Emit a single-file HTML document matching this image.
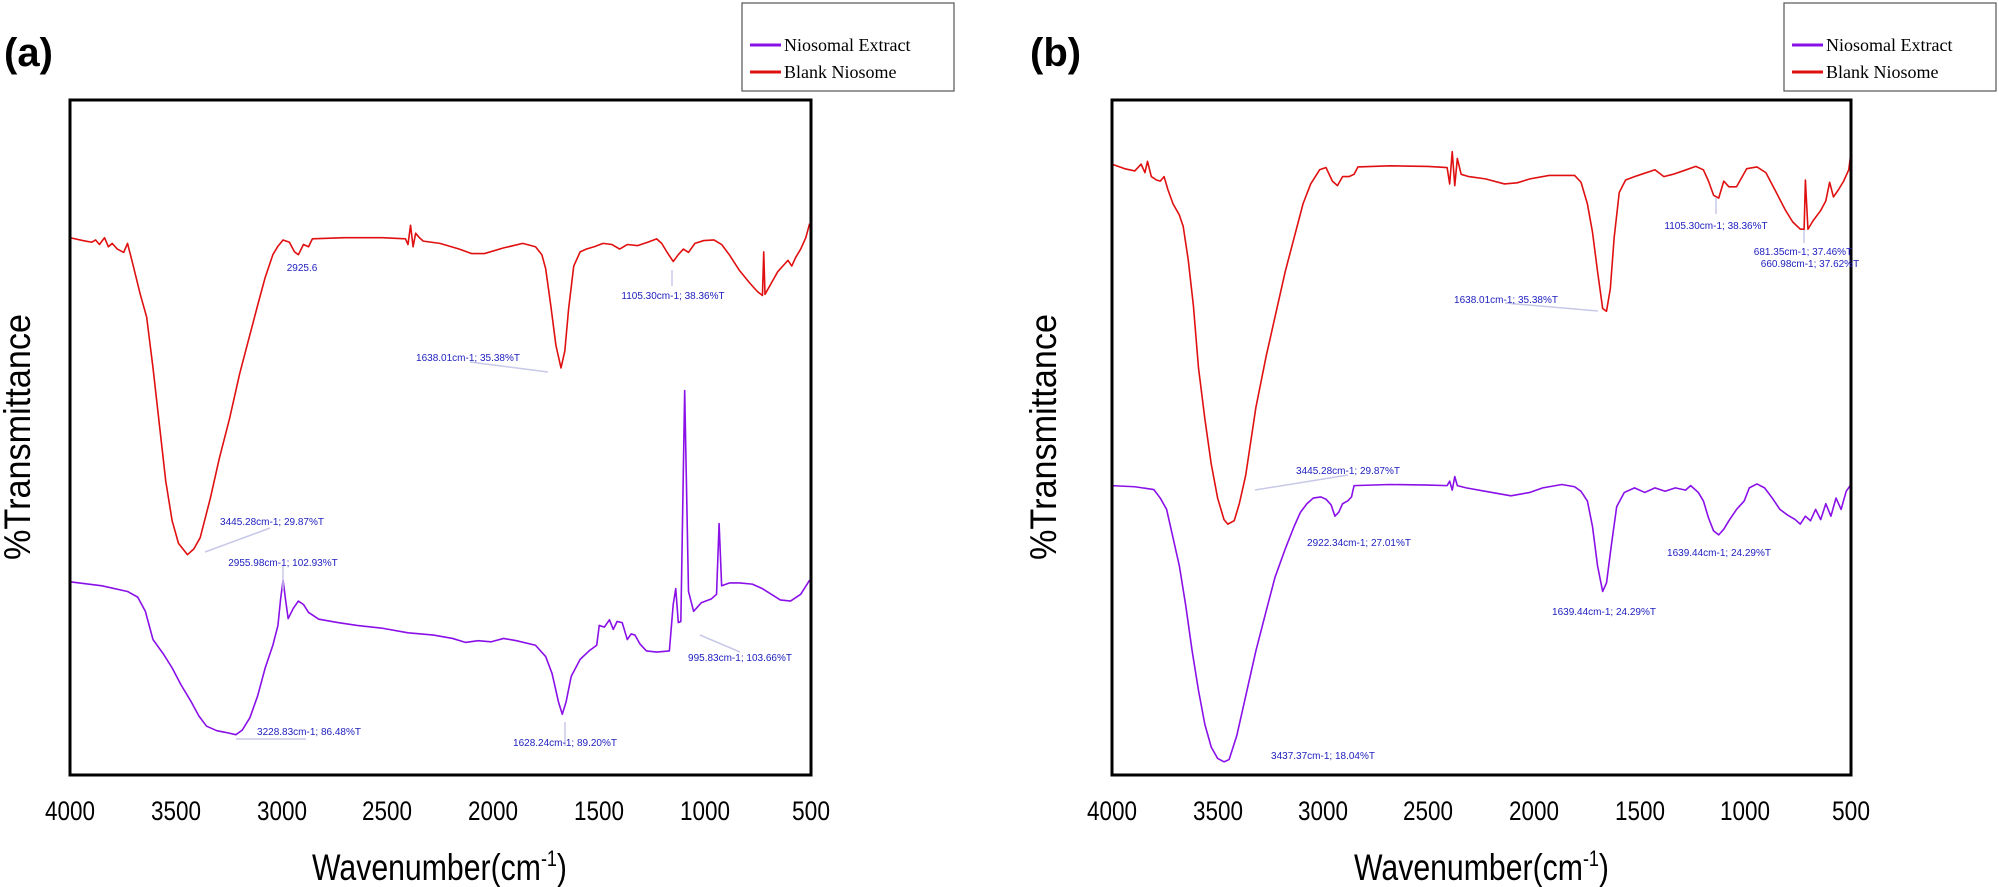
<!DOCTYPE html>
<html><head><meta charset="utf-8"><style>
html,body{margin:0;padding:0;background:#fff;}
svg{display:block;}
.ann{font-family:"Liberation Sans",sans-serif;font-size:10px;fill:#2020c0;}
.tick{font-family:"Liberation Sans",sans-serif;font-size:27px;fill:#000;text-anchor:middle;}
.ax{font-family:"Liberation Sans",sans-serif;font-size:37px;fill:#000;}
.lab{font-family:"Liberation Sans",sans-serif;font-size:40px;font-weight:bold;fill:#000;}
.leg{font-family:"Liberation Serif",serif;font-size:18px;fill:#000;}
.ld{stroke:#c8c8e8;stroke-width:1.5;}
</style></head><body>
<svg width="1999" height="887" viewBox="0 0 1999 887" xmlns="http://www.w3.org/2000/svg">
<rect width="1999" height="887" fill="#fff"/>
<g transform="scale(1.275,0.566)" fill="none" stroke-width="1.6" stroke-linejoin="round">
<polyline vector-effect="non-scaling-stroke" stroke="#e01010" points="55,420 65,425 72,428 75,424 78,432 82,420 85,436 88,430 92,440 97,446 100,430 104,465 110,520 115,560 120,650 125,750 130,850 135,920 140,960 147,980 152,970 157,950 165,880 172,810 180,740 188,660 195,600 202,540 208,490 214,450 218,435 222,424 227,428 231,445 234,450 238,432 242,436 245,422 270,420 300,420 318,422 320,432 322,398 324,436 326,412 329,420 332,426 345,430 360,440 370,448 380,448 395,438 410,430 420,436 425,450 428,475 432,540 436,610 440,650 443,620 446,545 450,470 455,445 460,440 466,436 473,430 480,432 486,440 492,432 500,434 508,428 515,422 519,430 523,445 528,462 532,450 536,440 540,446 545,430 552,425 560,424 566,432 572,450 580,478 588,500 594,515 598,522 599,445 600,520 605,500 610,480 614,470 618,460 621,470 624,455 628,440 632,420 635,395"/>
<polyline vector-effect="non-scaling-stroke" stroke="#8a10e8" points="55,1028 80,1035 100,1045 108,1055 114,1080 120,1130 128,1155 135,1180 142,1210 150,1240 156,1265 162,1283 170,1291 177,1294 185,1298 190,1290 196,1268 202,1230 208,1180 214,1140 218,1105 220,1060 222,1025 224,1060 226,1093 230,1075 234,1062 238,1068 242,1082 250,1094 265,1100 280,1105 300,1110 320,1118 340,1122 355,1128 365,1135 375,1132 385,1134 395,1128 405,1132 420,1140 428,1160 433,1190 438,1240 441,1262 444,1240 448,1195 455,1165 462,1150 468,1140 470,1105 474,1108 478,1095 481,1112 484,1098 488,1100 492,1130 495,1120 498,1122 502,1138 507,1150 515,1152 525,1150 528,1068 530,1040 532,1100 534,1098 537,690 540,1045 544,1080 550,1065 558,1058 562,1050 564,925 566,1035 572,1030 580,1030 590,1032 598,1040 605,1050 612,1060 620,1062 628,1050 635,1025"/>
<polyline vector-effect="non-scaling-stroke" stroke="#e01010" points="872,290 882,298 890,302 895,290 898,305 900,285 903,312 907,318 910,320 913,312 916,335 920,360 925,380 928,400 932,460 936,540 940,650 945,740 950,820 955,880 960,918 963,926 968,920 972,890 977,840 985,720 993,630 1000,560 1008,480 1015,420 1022,360 1028,325 1035,300 1040,296 1045,320 1049,328 1053,312 1058,312 1062,308 1065,295 1090,293 1120,294 1135,296 1137,325 1139,268 1141,328 1143,280 1146,308 1152,312 1165,316 1180,325 1190,323 1200,316 1215,310 1235,310 1240,322 1245,360 1249,410 1253,480 1257,545 1260,550 1263,510 1266,420 1270,340 1275,318 1282,312 1290,306 1298,300 1305,312 1312,308 1320,302 1330,294 1336,300 1340,320 1344,345 1348,350 1352,320 1356,330 1362,330 1370,298 1378,295 1385,305 1392,335 1400,370 1406,392 1412,405 1415,405 1416,318 1418,405 1422,390 1428,372 1432,355 1435,322 1438,348 1442,335 1446,320 1450,300 1452,265"/>
<polyline vector-effect="non-scaling-stroke" stroke="#8a10e8" points="872,858 890,860 905,865 910,880 915,900 920,950 925,1000 930,1070 935,1150 940,1220 945,1280 950,1320 955,1340 960,1346 964,1342 970,1300 977,1230 985,1150 993,1080 1000,1020 1008,970 1015,930 1020,905 1025,890 1030,880 1036,878 1040,882 1044,892 1047,912 1050,905 1053,890 1057,885 1060,878 1062,858 1090,856 1120,857 1135,858 1137,850 1139,866 1141,842 1143,858 1150,862 1165,868 1185,876 1200,870 1210,862 1225,856 1235,860 1240,868 1245,885 1249,930 1253,1000 1257,1045 1260,1030 1264,960 1268,895 1274,870 1282,862 1290,870 1298,862 1306,868 1314,862 1322,866 1326,858 1332,870 1336,885 1340,915 1344,938 1348,945 1352,935 1356,920 1362,900 1368,885 1372,862 1378,855 1384,862 1390,880 1396,900 1402,910 1408,918 1412,926 1416,912 1420,920 1424,900 1428,918 1432,890 1436,912 1440,880 1444,900 1448,868 1452,855"/>
</g>
<rect x="70" y="100" width="741" height="675" fill="none" stroke="#000" stroke-width="3"/>
<rect x="1112" y="100" width="739" height="675" fill="none" stroke="#000" stroke-width="3"/>
<g class="ld">
<line x1="205" y1="552" x2="270" y2="528"/>
<line x1="470" y1="362" x2="548" y2="372"/>
<line x1="672" y1="286" x2="672" y2="270"/>
<line x1="283" y1="566" x2="283" y2="590"/>
<line x1="236" y1="739" x2="306" y2="739"/>
<line x1="565" y1="746" x2="565" y2="722"/>
<line x1="700" y1="635" x2="740" y2="652"/>
<line x1="1255" y1="490" x2="1348" y2="475"/>
<line x1="1505" y1="303" x2="1598" y2="311"/>
<line x1="1716" y1="214" x2="1716" y2="198"/>
<line x1="1804" y1="243" x2="1804" y2="230"/>
</g>
<g class="ann" text-anchor="middle">
<text x="302" y="271">2925.6</text>
<text x="673" y="299">1105.30cm-1; 38.36%T</text>
<text x="468" y="361">1638.01cm-1; 35.38%T</text>
<text x="272" y="525">3445.28cm-1; 29.87%T</text>
<text x="283" y="566">2955.98cm-1; 102.93%T</text>
<text x="740" y="661">995.83cm-1; 103.66%T</text>
<text x="309" y="735">3228.83cm-1; 86.48%T</text>
<text x="565" y="746">1628.24cm-1; 89.20%T</text>
<text x="1716" y="229">1105.30cm-1; 38.36%T</text>
<text x="1803" y="255">681.35cm-1; 37.46%T</text>
<text x="1810" y="267">660.98cm-1; 37.62%T</text>
<text x="1506" y="303">1638.01cm-1; 35.38%T</text>
<text x="1348" y="474">3445.28cm-1; 29.87%T</text>
<text x="1359" y="546">2922.34cm-1; 27.01%T</text>
<text x="1719" y="556">1639.44cm-1; 24.29%T</text>
<text x="1604" y="615">1639.44cm-1; 24.29%T</text>
<text x="1323" y="759">3437.37cm-1; 18.04%T</text>
</g>
<g>
<text class="lab" x="4" y="66">(a)</text>
<rect x="742" y="3" width="212" height="88" fill="#fff" stroke="#555" stroke-width="1.2"/>
<line x1="750" y1="45" x2="781" y2="45" stroke="#8a10e8" stroke-width="3"/>
<line x1="750" y1="72" x2="781" y2="72" stroke="#e01010" stroke-width="3"/>
<text class="leg" x="784" y="51">Niosomal Extract</text>
<text class="leg" x="784" y="78">Blank Niosome</text>
<g class="tick">
<text x="70" y="820" textLength="50" lengthAdjust="spacingAndGlyphs">4000</text><text x="176" y="820" textLength="50" lengthAdjust="spacingAndGlyphs">3500</text><text x="282" y="820" textLength="50" lengthAdjust="spacingAndGlyphs">3000</text>
<text x="387" y="820" textLength="50" lengthAdjust="spacingAndGlyphs">2500</text><text x="493" y="820" textLength="50" lengthAdjust="spacingAndGlyphs">2000</text><text x="599" y="820" textLength="50" lengthAdjust="spacingAndGlyphs">1500</text>
<text x="705" y="820" textLength="50" lengthAdjust="spacingAndGlyphs">1000</text><text x="811" y="820" textLength="38" lengthAdjust="spacingAndGlyphs">500</text>
</g>
<text class="ax" x="312" y="880" textLength="255" lengthAdjust="spacingAndGlyphs">Wavenumber(cm<tspan dy="-14" font-size="22">-1</tspan><tspan dy="14">)</tspan></text>
<text class="ax" transform="translate(30,437) rotate(-90)" text-anchor="middle" textLength="246" lengthAdjust="spacingAndGlyphs">%Transmittance</text>
</g>
<g transform="translate(1042,0)">
<text class="lab" x="-12" y="66">(b)</text>
<rect x="742" y="3" width="212" height="88" fill="#fff" stroke="#555" stroke-width="1.2"/>
<line x1="750" y1="45" x2="781" y2="45" stroke="#8a10e8" stroke-width="3"/>
<line x1="750" y1="72" x2="781" y2="72" stroke="#e01010" stroke-width="3"/>
<text class="leg" x="784" y="51">Niosomal Extract</text>
<text class="leg" x="784" y="78">Blank Niosome</text>
<g class="tick">
<text x="70" y="820" textLength="50" lengthAdjust="spacingAndGlyphs">4000</text><text x="176" y="820" textLength="50" lengthAdjust="spacingAndGlyphs">3500</text><text x="281" y="820" textLength="50" lengthAdjust="spacingAndGlyphs">3000</text>
<text x="386" y="820" textLength="50" lengthAdjust="spacingAndGlyphs">2500</text><text x="492" y="820" textLength="50" lengthAdjust="spacingAndGlyphs">2000</text><text x="598" y="820" textLength="50" lengthAdjust="spacingAndGlyphs">1500</text>
<text x="703" y="820" textLength="50" lengthAdjust="spacingAndGlyphs">1000</text><text x="809" y="820" textLength="38" lengthAdjust="spacingAndGlyphs">500</text>
</g>
<text class="ax" x="312" y="880" textLength="255" lengthAdjust="spacingAndGlyphs">Wavenumber(cm<tspan dy="-14" font-size="22">-1</tspan><tspan dy="14">)</tspan></text>
<text class="ax" transform="translate(14,437) rotate(-90)" text-anchor="middle" textLength="246" lengthAdjust="spacingAndGlyphs">%Transmittance</text>
</g>
</svg>
</body></html>
